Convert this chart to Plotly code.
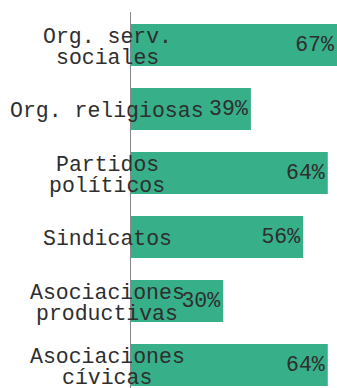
import plotly.graph_objects as go

# Organisation types (each entry is one or two label lines) and their shares (%)
categories = [
    ["Org. serv.", "sociales"],
    ["Org. religiosas"],
    ["Partidos", "políticos"],
    ["Sindicatos"],
    ["Asociaciones", "productivas"],
    ["Asociaciones", "cívicas"],
]
values = [67, 39, 64, 56, 30, 64]

BAR_COLOR = "#37AF89"
TEXT_COLOR = "#2e2e2e"
FONT = "Liberation Mono, Courier New, monospace"
FONT_SIZE = 21.5

keys = [" ".join(c) for c in categories]

fig = go.Figure(
    go.Bar(
        x=values,
        y=keys,
        orientation="h",
        marker=dict(color=BAR_COLOR, line=dict(width=0)),
        text=[f"{v}%" for v in values],
        textposition="inside",
        insidetextanchor="end",
        constraintext="none",
        textfont=dict(family=FONT, size=FONT_SIZE, color=TEXT_COLOR),
        cliponaxis=False,
        hoverinfo="skip",
    )
)

# Category labels: each line centred left of the axis, overlapping the bars
annotations = []
line_gap = 21
for key, lines in zip(keys, categories):
    n = len(lines)
    for i, line in enumerate(lines):
        annotations.append(
            dict(
                x=0, xref="paper", xshift=-24, xanchor="center",
                y=key, yref="y", yanchor="middle",
                yshift=((n - 1) / 2 - i) * line_gap - 2,
                text=line, showarrow=False,
                font=dict(family=FONT, size=FONT_SIZE, color=TEXT_COLOR),
            )
        )

fig.update_layout(
    width=337,
    height=388,
    margin=dict(l=131, r=0, t=12, b=0),
    paper_bgcolor="white",
    plot_bgcolor="white",
    bargap=0.344,
    showlegend=False,
    annotations=annotations,
    xaxis=dict(
        range=[0, 67],
        showgrid=False, zeroline=False, showline=False,
        showticklabels=False, ticks="",
    ),
    yaxis=dict(
        type="category",
        categoryorder="array",
        categoryarray=keys,
        range=[5.359, -0.516],
        showgrid=False, zeroline=False,
        showline=True, linecolor="#888888", linewidth=1,
        showticklabels=False, ticks="",
    ),
)

fig.write_html("out.html")
